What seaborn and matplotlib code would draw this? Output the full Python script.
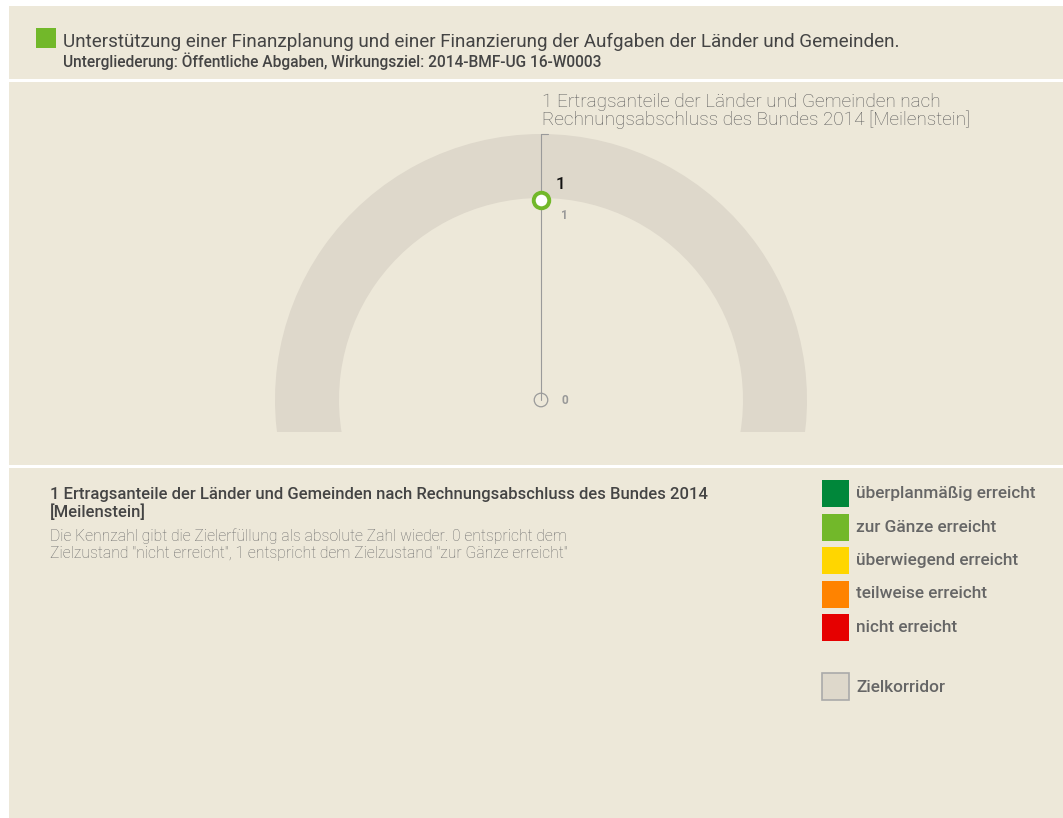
import matplotlib
matplotlib.use("Agg")
import matplotlib.pyplot as plt
from matplotlib.patches import Rectangle, Wedge
import seaborn as sns
import pandas as pd

# ---- content -------------------------------------------------------------
goal_title = "Unterstützung einer Finanzplanung und einer Finanzierung der Aufgaben der Länder und Gemeinden."
goal_subtitle = "Untergliederung: Öffentliche Abgaben, Wirkungsziel: 2014-BMF-UG 16-W0003"

indicator_names = ["1 Ertragsanteile der Länder und Gemeinden nach\nRechnungsabschluss des Bundes 2014 [Meilenstein]"]
indicator_values = [1]
indicator_status_colors = ["#72b82a"]

axis_min, axis_max = 0, 1.33
axis_ticks = [0, 1]
corridor_from, corridor_to = 1, 1.33

note_title = "1 Ertragsanteile der Länder und Gemeinden nach Rechnungsabschluss des Bundes 2014\n[Meilenstein]"
note_text = ("Die Kennzahl gibt die Zielerfüllung als absolute Zahl wieder. 0 entspricht dem\n"
             "Zielzustand \"nicht erreicht\", 1 entspricht dem Zielzustand \"zur Gänze erreicht\"")

legend_labels = ["überplanmäßig erreicht", "zur Gänze erreicht", "überwiegend erreicht",
                 "teilweise erreicht", "nicht erreicht"]
legend_colors = ["#00873a", "#72b82a", "#ffd600", "#ff8300", "#e60000"]
corridor_label = "Zielkorridor"

# ---- style ---------------------------------------------------------------
sns.set_theme(style="white")
plt.rcParams["font.family"] = ["Roboto", "DejaVu Sans"]

W, H = 1063, 818
PANEL = "#ede8d9"
BAND = "#ded8cb"
fig = plt.figure(figsize=(W / 100, H / 100), dpi=100)
fig.patch.set_facecolor("white")


def fx(px):
    return px / W


def fy(py):
    return 1 - py / H


def panel(x0, y0, x1, y1):
    fig.patches.append(Rectangle((fx(x0), fy(y1)), fx(x1) - fx(x0), fy(y0) - fy(y1),
                                 transform=fig.transFigure, facecolor=PANEL,
                                 edgecolor="none", zorder=-2))


panel(9, 6, W, 79)
panel(9, 82, W, 465)
panel(9, 468, W, H)

# ---- header --------------------------------------------------------------
fig.patches.append(Rectangle((fx(36), fy(48)), fx(20), 20 / H, transform=fig.transFigure,
                             facecolor=indicator_status_colors[0], edgecolor="none", zorder=1))
fig.text(fx(63), fy(42), goal_title, fontsize=13.6, color="#444444", va="center", ha="left")
fig.text(fx(63), fy(61), goal_subtitle, fontsize=11.2, color="#444444", va="center", ha="left",
         fontweight="medium")

# ---- gauge ---------------------------------------------------------------
ax = fig.add_axes([fx(241), fy(432), 600 / W, 312 / H])
ax.set_xlim(-1.5, 1.5)
ax.set_ylim(-0.16, 1.40)
ax.set_axis_off()
ax.patch.set_alpha(0)

# target corridor band
ax.add_patch(Wedge((0, 0), corridor_to, -20, 200, width=corridor_to - corridor_from - 0.01,
                   facecolor=BAND, edgecolor="none", zorder=1))

# radial value axis
axis_df = pd.DataFrame({"x": [0, 0], "y": [axis_min, axis_max]})
sns.lineplot(data=axis_df, x="x", y="y", ax=ax, color="#9a9a9a", linewidth=0.8,
             sort=False, estimator=None, zorder=2)
ax.plot([0, 0.035], [axis_max, axis_max], color="#9a9a9a", linewidth=0.8, zorder=2)

ax.scatter([0], [axis_min], s=95, facecolor="none", edgecolor="#9a9a9a", linewidth=0.9, zorder=3)
for t in axis_ticks:
    ax.annotate(f"{t}", (0, t), xytext=(14.5, -11.5 if t == 1 else 0), textcoords="offset points",
                fontsize=8.6, fontweight="bold", color="#999999", va="center", ha="left")

# indicator value
val_df = pd.DataFrame({"x": [0] * len(indicator_values), "y": indicator_values})
sns.scatterplot(data=val_df, x="x", y="y", ax=ax, s=125, color="white",
                edgecolor=indicator_status_colors[0], linewidth=2.8, zorder=4)
for v in indicator_values:
    ax.annotate(f"{v}", (0, v), xytext=(10.5, 11), textcoords="offset points", fontsize=12.4,
                fontweight="medium", color="#111111", va="center", ha="left")
ax.set_xlabel("")
ax.set_ylabel("")

fig.text(fx(542), fy(111), indicator_names[0], fontsize=13.7, fontweight="light",
         color="#5c5c5c", va="center", ha="left", linespacing=1.0)

# ---- notes ---------------------------------------------------------------
fig.text(fx(50), fy(503.5), note_title, fontsize=12.0, color="#444444", fontweight="medium",
         va="center", ha="left", linespacing=1.1)
fig.text(fx(50), fy(544.5), note_text, fontsize=11.3, color="#6c6c6c", fontweight="light",
         va="center", ha="left", linespacing=1.13)

# ---- legend --------------------------------------------------------------
for i, (lab, col) in enumerate(zip(legend_labels, legend_colors)):
    top = 480 + i * 33.5
    fig.patches.append(Rectangle((fx(822), fy(top + 27)), fx(27), 27 / H, transform=fig.transFigure,
                                 facecolor=col, edgecolor="none", zorder=1))
    fig.text(fx(856), fy(top + 13.5), lab, fontsize=12.4, fontweight="medium", color="#666666",
             va="center", ha="left")
fig.patches.append(Rectangle((fx(822), fy(700)), fx(27), 27 / H, transform=fig.transFigure,
                             facecolor=BAND, edgecolor="#aaaaaa", linewidth=1.2, zorder=1))
fig.text(fx(856), fy(687), corridor_label, fontsize=12.4, fontweight="medium", color="#666666",
         va="center", ha="left")

fig.savefig("out.png", dpi=100, facecolor=fig.get_facecolor())
